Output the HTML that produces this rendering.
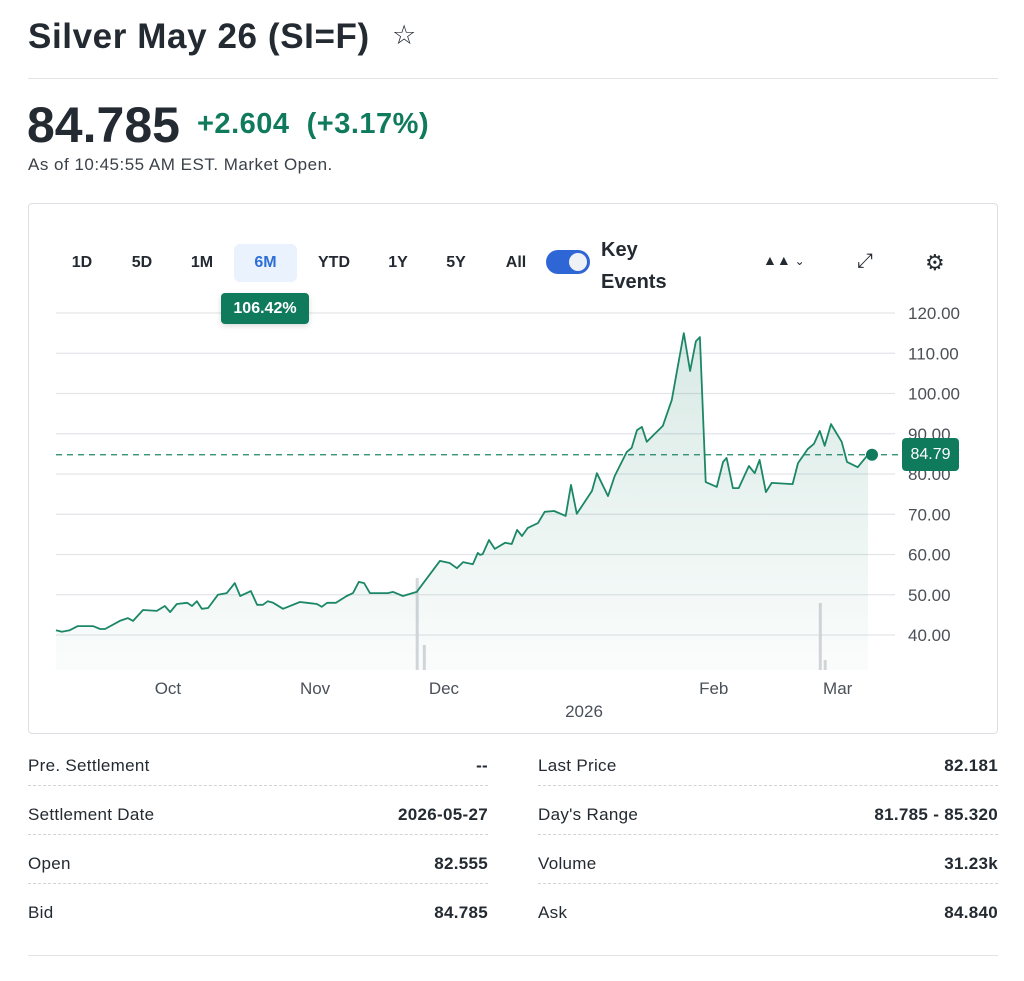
<!DOCTYPE html>
<html><head><meta charset="utf-8"><style>
body{margin:0;width:1024px;height:981px;background:#fff;font-family:"Liberation Sans",sans-serif;color:#232a31;position:relative;overflow:hidden}
.a{position:absolute;white-space:nowrap}
.tab{position:absolute;top:244px;height:38px;line-height:38px;font-size:16px;font-weight:bold;color:#232a31;text-align:center}
.row{position:absolute;height:39px;border-bottom:1px dashed #d0d4d8;font-size:17px;line-height:40px;letter-spacing:0.3px}
.row span{position:absolute}
.z{z-index:2}
</style></head><body>
<div class="a" style="left:28px;top:17px;font-size:35px;font-weight:bold;letter-spacing:0.6px">Silver May 26 (SI=F)</div>
<div class="a" style="left:392px;top:20px;font-size:27px">☆</div>
<div class="a" style="left:28px;top:78px;width:970px;height:1px;background:#e2e4e8"></div>
<div class="a" style="left:27px;top:96px;font-size:50px;font-weight:bold">84.785</div>
<div class="a" style="left:197px;top:108px;font-size:29px;font-weight:bold;color:#0f7a5c;letter-spacing:0.5px">+2.604&nbsp; (+3.17%)</div>
<div class="a" style="left:28px;top:155px;font-size:17px;color:#3a4148;letter-spacing:0.5px">As of 10:45:55 AM EST. Market Open.</div>

<div class="a" style="left:28px;top:203px;width:968px;height:529px;border:1px solid #dcdfe3;border-radius:4px"></div>
<div class="tab" style="left:62px;width:40px">1D</div>
<div class="tab" style="left:122px;width:40px">5D</div>
<div class="tab" style="left:182px;width:40px">1M</div>
<div class="tab" style="left:234px;width:63px;background:#eaf2fd;color:#2d6fd6;border-radius:6px">6M</div>
<div class="tab" style="left:312px;width:44px">YTD</div>
<div class="tab" style="left:378px;width:40px">1Y</div>
<div class="tab" style="left:436px;width:40px">5Y</div>
<div class="tab" style="left:496px;width:40px">All</div>
<div class="a" style="left:546px;top:250px;width:44px;height:24px;background:#2f66d6;border-radius:12px"><div style="position:absolute;right:3px;top:3px;width:18px;height:18px;border-radius:9px;background:#eef1f5"></div></div>
<div class="a" style="left:601px;top:234px;font-size:20px;font-weight:bold;line-height:32px">Key<br>Events</div>
<div class="a" style="left:763px;top:252px;font-size:14px">▲▲ <span style="font-size:12px">⌄</span></div>
<div class="a" style="left:857px;top:250px;font-size:20px">⤢</div>
<div class="a" style="left:925px;top:250px;font-size:22px">⚙</div>

<svg id="chart" class="a" style="left:0;top:0" width="1024" height="981">
<defs><linearGradient id="fill" x1="0" y1="0" x2="0" y2="1"><stop offset="0" stop-color="#0f7a5c" stop-opacity="0.16"/><stop offset="1" stop-color="#0f7a5c" stop-opacity="0.02"/></linearGradient></defs>
<g id="grid"></g><g id="vol"></g><g id="series"></g><g id="xlab"></g>
</svg>
<div class="a z" style="left:221px;top:293px;width:88px;height:31px;background:#0f7a5c;color:#fff;border-radius:4px;font-size:16px;font-weight:bold;text-align:center;line-height:31px;box-shadow:0 2px 6px rgba(0,0,0,.15)">106.42%</div>
<div class="a z" style="left:902px;top:438px;width:57px;height:33px;background:#0f7a5c;color:#fff;border-radius:4px;font-size:16px;text-align:center;line-height:33px">84.79</div>

<div class="row" style="left:28px;top:746px;width:460px"><span style="left:0">Pre. Settlement</span><span style="right:0;font-weight:bold">--</span></div>
<div class="row" style="left:28px;top:795px;width:460px"><span style="left:0">Settlement Date</span><span style="right:0;font-weight:bold">2026-05-27</span></div>
<div class="row" style="left:28px;top:844px;width:460px"><span style="left:0">Open</span><span style="right:0;font-weight:bold">82.555</span></div>
<div class="row" style="left:28px;top:893px;width:460px;border:none"><span style="left:0">Bid</span><span style="right:0;font-weight:bold">84.785</span></div>
<div class="row" style="left:538px;top:746px;width:460px"><span style="left:0">Last Price</span><span style="right:0;font-weight:bold">82.181</span></div>
<div class="row" style="left:538px;top:795px;width:460px"><span style="left:0">Day's Range</span><span style="right:0;font-weight:bold">81.785 - 85.320</span></div>
<div class="row" style="left:538px;top:844px;width:460px"><span style="left:0">Volume</span><span style="right:0;font-weight:bold">31.23k</span></div>
<div class="row" style="left:538px;top:893px;width:460px;border:none"><span style="left:0">Ask</span><span style="right:0;font-weight:bold">84.840</span></div>
<div class="a" style="left:28px;top:955px;width:970px;height:1px;background:#e2e4e8"></div>

<script>
const yTicks=[120,110,100,90,80,70,60,50,40];
const days=[0,1.3,3.1,4.9,8.3,9.9,11,14.3,16.1,17.3,19.5,22.6,24.4,25.6,27.1,29.4,30.5,31.6,32.7,34.1,36.3,38.3,40.1,41.3,43.7,45.1,46.4,47.5,48.7,50.9,54.7,56.3,58.5,59.6,60.8,62.8,65.2,66.6,67.9,69.1,70.4,74.4,75.6,77.8,80.9,86.1,88.3,89.9,91.3,93.5,94.6,95.1,95.7,97.1,98.4,100.7,102.2,103.4,104.5,105.8,108.1,109.6,111.7,114.3,115.5,116.8,120.2,121.3,123.8,125.3,128,129.1,130.3,131.4,132.5,136.1,138.1,140.8,142.2,143.5,144.4,145.7,148.2,149.6,150.4,151.8,153.1,155.4,156.7,157.8,159.2,160.5,165.2,166.4,168.6,170,171.3,172.4,173.8,176.2,177.4,179.8,182.1];
const prices=[41.2,40.8,41.2,42.2,42.2,41.5,41.5,43.5,44.2,43.5,46.2,46.0,47.2,45.7,47.7,48.0,47.2,48.4,46.5,46.7,50.0,50.4,52.9,49.7,50.9,47.5,47.5,48.4,48.0,46.5,48.2,48.0,47.7,47.0,48.0,48.0,49.7,50.4,53.2,52.9,50.4,50.4,50.7,49.7,50.7,58.4,57.9,56.6,58.1,57.6,60.4,59.9,60.1,63.6,61.4,62.9,62.6,66.1,64.6,66.6,67.8,70.6,70.8,69.6,77.3,70.1,75.8,80.2,74.5,79.5,85.5,86.5,90.9,91.7,88.0,92.0,98.4,115.0,105.6,113.0,114.0,78.0,76.8,83.0,84.0,76.5,76.5,82.0,80.2,83.5,75.5,77.8,77.5,82.7,86.2,87.5,90.7,87.0,92.4,88.0,83.0,81.7,84.79];
const volDays=[81,82.6,171.4,172.5];
const volHeights=[92,25,67,10];
const monthLabels=["Oct","Nov","Dec","Feb","Mar"];
const monthDays=[25.1,58.1,87,147.5,175.3];
const lastPrice=84.79;
const NS="http://www.w3.org/2000/svg";
const X=d=>56+d*(812/182.1);
const Y=v=>313+(120-v)*4.025;
function mk(t,a,p){const e=document.createElementNS(NS,t);for(const k in a)e.setAttribute(k,a[k]);p.appendChild(e);return e;}
const grid=document.getElementById('grid');
yTicks.forEach(t=>{
 const l=mk('line',{x1:56,x2:895,y1:Y(t),y2:Y(t),stroke:'#e3e5e8','stroke-width':1.3},grid);
 
 
 const tx=mk('text',{x:908,y:Y(t)+6,'font-size':17,fill:'#4a5058','font-family':'Liberation Sans, sans-serif'},grid);
 tx.textContent=t.toFixed(2);
 
 
});
const vol=document.getElementById('vol');
volDays.forEach((d,i)=>{
 const r=mk('rect',{x:X(d)-1.5,y:670-volHeights[i],width:3,height:volHeights[i],fill:'#d4d7db'},vol);
 
 
});
const s=document.getElementById('series');
let d='';days.forEach((dd,i)=>{d+=(i?'L':'M')+X(dd).toFixed(1)+' '+Y(prices[i]).toFixed(1);});
const area=mk('path',{d:d+'L'+X(days[days.length-1])+' 670L'+X(0)+' 670Z',fill:'url(#fill)'},s);


const line=mk('path',{d:d,fill:'none',stroke:'#1c8766','stroke-width':1.8,'stroke-linejoin':'round'},s);


const dash=mk('line',{x1:56,x2:902,y1:Y(lastPrice),y2:Y(lastPrice),stroke:'#1c8766','stroke-width':1.3,'stroke-dasharray':'6 5'},s);


const dot=mk('circle',{cx:X(days[days.length-1])+4,cy:Y(lastPrice),r:6,fill:'#0f7a5c'},s);


const xl=document.getElementById('xlab');
monthLabels.forEach((m,i)=>{
 const t=mk('text',{x:X(monthDays[i]),y:694,'text-anchor':'middle','font-size':17,fill:'#4a5058','font-family':'Liberation Sans, sans-serif'},xl);
 t.textContent=m;
 
 
});
const yr=mk('text',{x:584,y:717,'text-anchor':'middle','font-size':17,fill:'#4a5058','font-family':'Liberation Sans, sans-serif'},xl);
yr.textContent='2026';


</script>
</body></html>
